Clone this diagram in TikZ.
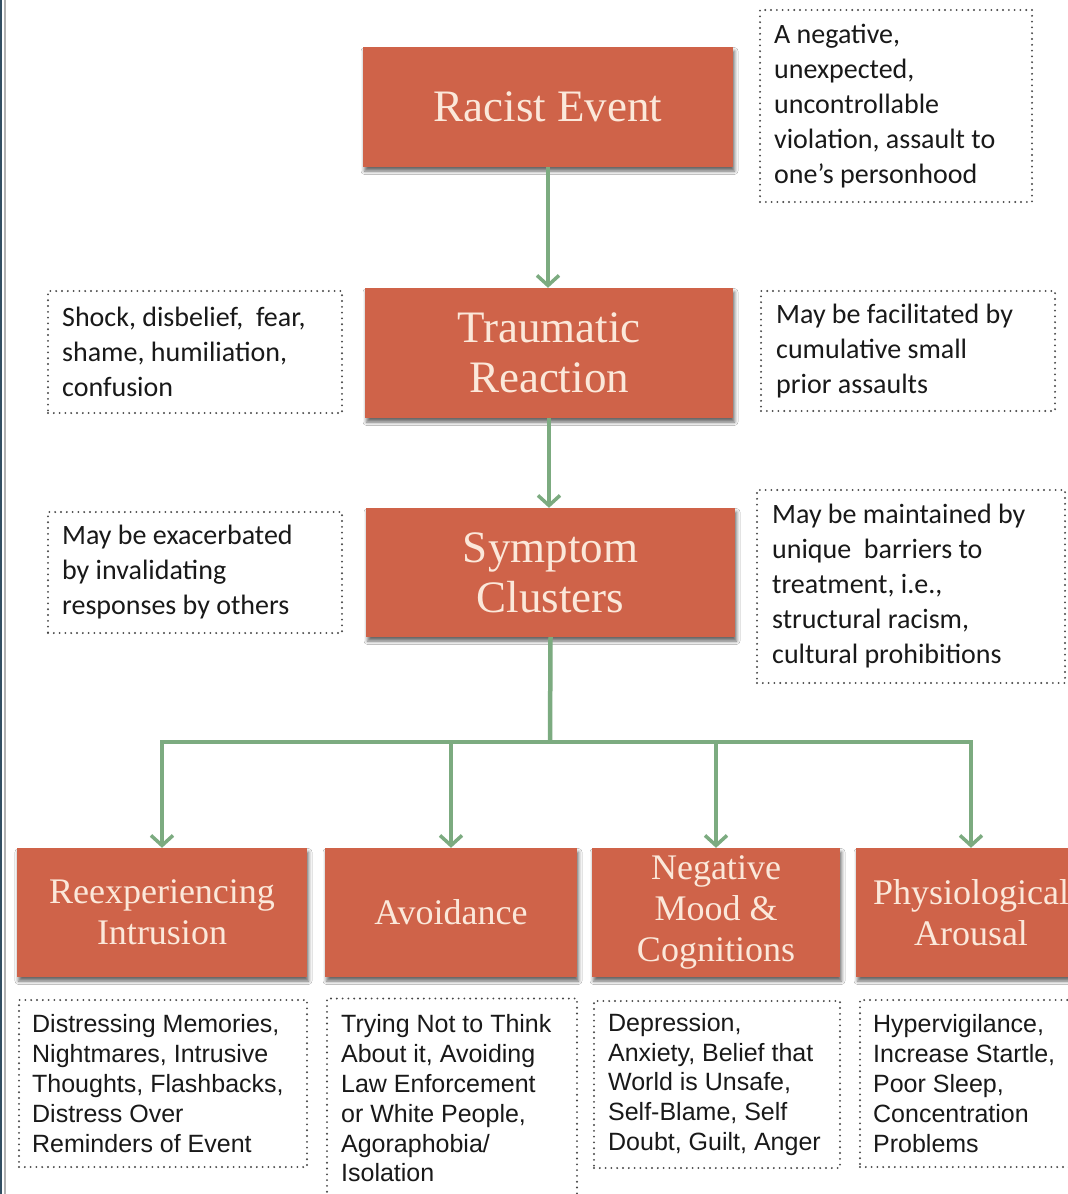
\documentclass[tikz,border=0pt]{standalone}
\usepackage{fontspec}
\setmainfont{Liberation Serif}
\newfontfamily\notefont{Carlito}
\newfontfamily\listfont{Liberation Sans}
\usetikzlibrary{arrows.meta,shadows.blur}
\definecolor{boxfill}{RGB}{207,99,73}
\definecolor{boxtext}{RGB}{251,232,218}
\definecolor{linkgreen}{RGB}{124,171,128}
\definecolor{dotgray}{RGB}{70,70,70}
\definecolor{frameblue}{RGB}{50,78,98}

\begin{document}
\begin{tikzpicture}[x=1pt,y=-1pt,
  stage/.style={fill=boxfill, text=boxtext, align=center, inner sep=0pt,
    font=\fontsize{45}{50}\selectfont,
    blur shadow={shadow xshift=1.5pt, shadow yshift=-4pt,
      shadow blur radius=3.5pt, shadow opacity=60}},
  cluster/.style={stage, font=\fontsize{36}{41}\selectfont, minimum height=129pt},
  notebox/.style={draw=dotgray, line width=2.1pt, line cap=round,
    dash pattern=on 0pt off 5.8pt, inner sep=0pt},
  notetext/.style={anchor=west, align=left, inner sep=0pt,
    font=\notefont\fontsize{28}{35}\selectfont, text=black!90},
  listtext/.style={notetext, font=\listfont\fontsize{25}{29.8}\selectfont},
  link/.style={draw=linkgreen, line width=4.5pt},
  arrowlink/.style={link, -{Straight Barb[length=10pt,width=22pt,line width=3.5pt]}},
]
\useasboundingbox (0,0) rectangle (1068,1194);
\clip (0,0) rectangle (1068,1194);
\fill[white] (0,0) rectangle (1068,1194);

% frame edge on the left
\draw[frameblue, line width=2pt] (1,0) -- (1,1194);
\draw[gray!60, line width=1.2pt] (5,0) -- (5,1194);

% main chain
\node[stage, minimum width=370pt, minimum height=120pt] (racist) at (548,107) {Racist Event};
\node[stage, minimum width=368pt, minimum height=130pt] (trauma) at (549,353) {Traumatic\\Reaction};
\node[stage, minimum width=369pt, minimum height=129pt] (symptom) at (550.5,572.5) {Symptom\\Clusters};

% symptom clusters
\node[cluster, minimum width=290pt] (reexp) at (162,912.5) {Reexperiencing\\Intrusion};
\node[cluster, minimum width=252pt] (avoid) at (451,912.5) {Avoidance};
\node[cluster, minimum width=248pt] (mood) at (716,912.5) {Negative\\Mood \&\\Cognitions};
\node[cluster, minimum width=230pt] (arousal) at (971,912.5) {Physiological\\Arousal};

% side notes
\node[notebox, minimum width=272pt, minimum height=192pt] (eventnote) at (896,106) {};
\node[notetext] (eventnotetext) at ([xshift=15pt]eventnote.west)
  {A negative,\\unexpected,\\uncontrollable\\violation, assault to\\one’s personhood};

\node[notebox, minimum width=294pt, minimum height=122pt] (feelnote) at (195,352) {};
\node[notetext] (feelnotetext) at ([xshift=15pt]feelnote.west)
  {Shock, disbelief,\ \ fear,\\shame, humiliation,\\confusion};

\node[notebox, minimum width=294pt, minimum height=120pt] (priornote) at (908,351) {};
\node[notetext] (priornotetext) at ([xshift=16pt]priornote.west)
  {May be facilitated by\\cumulative small\\prior assaults};

\node[notebox, minimum width=294pt, minimum height=121pt] (othersnote) at (195,572.5) {};
\node[notetext] (othersnotetext) at ([xshift=15pt]othersnote.west)
  {May be exacerbated\\by invalidating\\responses by others};

\node[notebox, minimum width=308pt, minimum height=193pt] (barriernote) at (911,586.5) {};
\node[notetext] (barriernotetext) at ([xshift=16pt]barriernote.west)
  {May be maintained by\\unique\ \ barriers to\\treatment, i.e.,\\structural racism,\\cultural prohibitions};

% symptom lists
\node[notebox, minimum width=288pt, minimum height=167pt] (reexplist) at (163,1083.5) {};
\node[listtext] (reexplisttext) at ([xshift=14pt]reexplist.west)
  {Distressing Memories,\\Nightmares, Intrusive\\Thoughts, Flashbacks,\\Distress Over\\Reminders of Event};

\node[notebox, minimum width=250pt, minimum height=200pt] (avoidlist) at (452,1098.5) {};
\node[listtext] (avoidlisttext) at ([xshift=15pt]avoidlist.west)
  {Trying Not to Think\\About it, Avoiding\\Law Enforcement\\or White People,\\Agoraphobia/\\Isolation};

\node[notebox, minimum width=246pt, minimum height=167pt] (moodlist) at (717,1084.5) {};
\node[listtext] (moodlisttext) at ([xshift=15pt]moodlist.west)
  {Depression,\\Anxiety, Belief that\\World is Unsafe,\\Self-Blame, Self\\Doubt, Guilt, Anger};

\node[notebox, minimum width=226pt, minimum height=167pt] (arousallist) at (973,1083.5) {};
\node[listtext] (arousallisttext) at ([xshift=14pt]arousallist.west)
  {Hypervigilance,\\Increase Startle,\\Poor Sleep,\\Concentration\\Problems};

% connectors
\draw[arrowlink] (racist.south) -- (racist.south |- trauma.north);
\draw[arrowlink] (trauma.south) -- (trauma.south |- symptom.north);
\coordinate (hub) at (550,742);
\draw[link] (symptom.south) -- (hub);
\draw[arrowlink] (hub) -| (reexp.north);
\draw[arrowlink] (hub) -| (avoid.north);
\draw[arrowlink] (hub) -| (mood.north);
\draw[arrowlink] (hub) -| (arousal.north);
\end{tikzpicture}
\end{document}
